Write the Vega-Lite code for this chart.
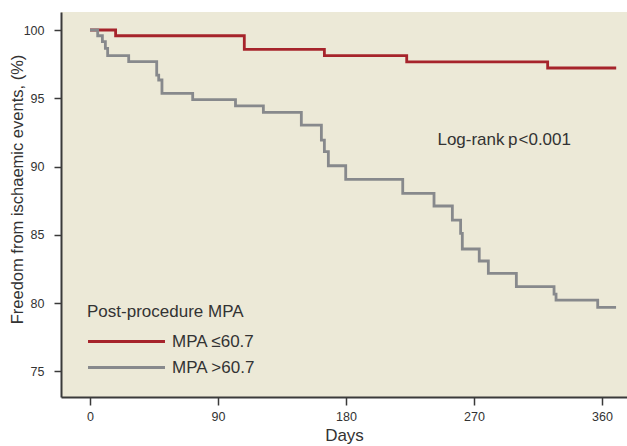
{
  "$schema": "https://vega.github.io/schema/vega-lite/v6.json",
  "width": 566,
  "height": 385,
  "autosize": {"type": "none"},
  "padding": {"left": 61, "top": 12, "right": 0, "bottom": 49},
  "background": "#ffffff",
  "config": {
    "view": {"fill": "#ECE9D7", "stroke": null},
    "axis": {
      "domainColor": "#3a3a3a",
      "domainWidth": 2,
      "tickColor": "#3a3a3a",
      "tickWidth": 1.5,
      "tickSize": 7,
      "grid": false,
      "labelFont": "Liberation Sans",
      "labelFontSize": 12.5,
      "labelColor": "#333333",
      "titleFont": "Liberation Sans",
      "titleFontWeight": "normal",
      "titleColor": "#333333"
    }
  },
  "datasets": {
    "km": [
      {"day": 0, "surv": 100, "group": "MPA ≤60.7"},
      {"day": 18, "surv": 99.58, "group": "MPA ≤60.7"},
      {"day": 108.5, "surv": 98.58, "group": "MPA ≤60.7"},
      {"day": 164.8, "surv": 98.12, "group": "MPA ≤60.7"},
      {"day": 222.7, "surv": 97.66, "group": "MPA ≤60.7"},
      {"day": 321.8, "surv": 97.22, "group": "MPA ≤60.7"},
      {"day": 370, "surv": 97.22, "group": "MPA ≤60.7"},
      {"day": 0, "surv": 100, "group": "MPA >60.7"},
      {"day": 5.4, "surv": 99.58, "group": "MPA >60.7"},
      {"day": 8.7, "surv": 99.15, "group": "MPA >60.7"},
      {"day": 10.8, "surv": 98.66, "group": "MPA >60.7"},
      {"day": 12.4, "surv": 98.12, "group": "MPA >60.7"},
      {"day": 27.2, "surv": 97.68, "group": "MPA >60.7"},
      {"day": 46.9, "surv": 96.7, "group": "MPA >60.7"},
      {"day": 48.3, "surv": 96.34, "group": "MPA >60.7"},
      {"day": 50.6, "surv": 95.36, "group": "MPA >60.7"},
      {"day": 72.2, "surv": 94.9, "group": "MPA >60.7"},
      {"day": 102.3, "surv": 94.44, "group": "MPA >60.7"},
      {"day": 121.9, "surv": 93.97, "group": "MPA >60.7"},
      {"day": 148.6, "surv": 93.03, "group": "MPA >60.7"},
      {"day": 162.7, "surv": 91.94, "group": "MPA >60.7"},
      {"day": 164.8, "surv": 91.09, "group": "MPA >60.7"},
      {"day": 167.6, "surv": 90.06, "group": "MPA >60.7"},
      {"day": 179.8, "surv": 89.06, "group": "MPA >60.7"},
      {"day": 219.9, "surv": 88.04, "group": "MPA >60.7"},
      {"day": 241.9, "surv": 87.11, "group": "MPA >60.7"},
      {"day": 254.8, "surv": 86.08, "group": "MPA >60.7"},
      {"day": 260.6, "surv": 85.1, "group": "MPA >60.7"},
      {"day": 261.8, "surv": 83.96, "group": "MPA >60.7"},
      {"day": 273.7, "surv": 83.08, "group": "MPA >60.7"},
      {"day": 280.1, "surv": 82.17, "group": "MPA >60.7"},
      {"day": 299.8, "surv": 81.2, "group": "MPA >60.7"},
      {"day": 326.3, "surv": 80.66, "group": "MPA >60.7"},
      {"day": 327.7, "surv": 80.22, "group": "MPA >60.7"},
      {"day": 357, "surv": 79.68, "group": "MPA >60.7"},
      {"day": 369.9, "surv": 79.68, "group": "MPA >60.7"}
    ],
    "note": [
      {"day": 244.3, "surv": 91.94, "label": "Log-rank", "style": "normal"},
      {"day": 293.9, "surv": 91.94, "label": "p", "style": "italic"},
      {"day": 301.3, "surv": 91.94, "label": "<0.001", "style": "normal"},
      {"day": -2.1, "surv": 79.32, "label": "Post-procedure MPA", "style": "normal"}
    ]
  },
  "layer": [
    {
      "data": {"name": "km"},
      "mark": {"type": "line", "interpolate": "step-after", "strokeWidth": 2.8},
      "encoding": {
        "x": {
          "field": "day", "type": "quantitative",
          "scale": {"domain": [-20.4, 377.6], "nice": false, "zero": false},
          "axis": {"values": [0, 90, 180, 270, 360], "title": "Days", "titleFontSize": 17, "labelPadding": 5, "titlePadding": 5, "tickSize": 8}
        },
        "y": {
          "field": "surv", "type": "quantitative",
          "scale": {"domain": [73.12, 101.32], "nice": false, "zero": false},
          "axis": {"values": [75, 80, 85, 90, 95, 100], "title": "Freedom from ischaemic events, (%)", "titleFontSize": 16.5, "labelPadding": 10, "titleX": -36, "titleY": 177}
        },
        "color": {
          "field": "group", "type": "nominal",
          "scale": {"domain": ["MPA ≤60.7", "MPA >60.7"], "range": ["#A6242B", "#87898C"]},
          "legend": {
            "title": null,
            "orient": "none",
            "legendX": 56,
            "legendY": 320,
            "padding": 0,
            "symbolType": "M-5,0H5",
            "symbolSize": 237,
            "symbolStrokeWidth": 3,
            "labelFont": "Liberation Sans",
            "labelFontSize": 17,
            "labelColor": "#333333",
            "labelOffset": 36,
            "rowPadding": 8
          }
        }
      }
    },
    {
      "data": {"name": "note"},
      "mark": {"type": "text", "align": "left", "baseline": "middle", "font": "Liberation Sans", "fontSize": 17, "color": "#333333"},
      "encoding": {
        "x": {"field": "day", "type": "quantitative"},
        "y": {"field": "surv", "type": "quantitative"},
        "text": {"field": "label"},
        "fontStyle": {"field": "style", "type": "nominal", "scale": null}
      }
    }
  ]
}
